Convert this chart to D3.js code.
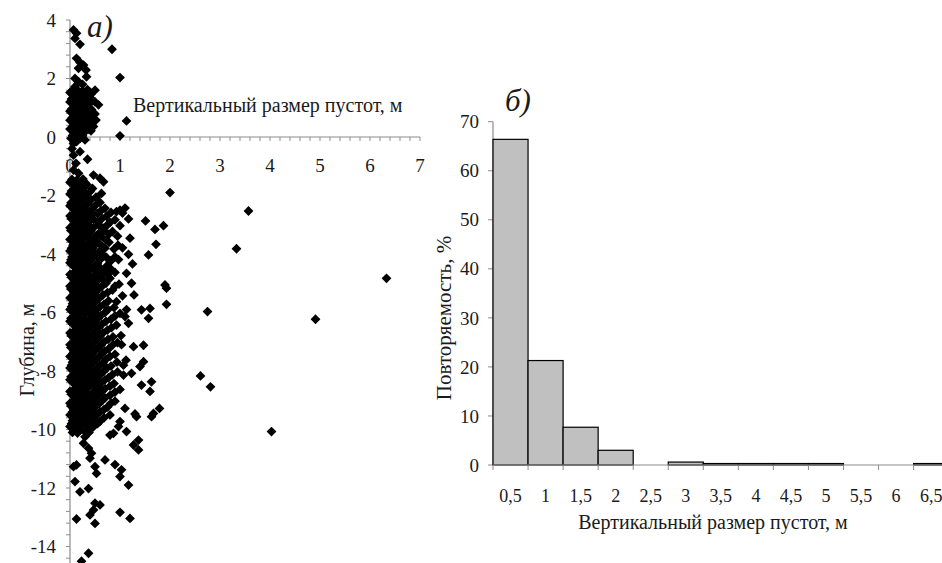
<!DOCTYPE html>
<html>
<head>
<meta charset="utf-8">
<script src="https://d3js.org/d3.v7.min.js"></script>
<style>
  body { margin: 0; background: #fff; }
  svg { display: block; }
</style>
</head>
<body>
<svg id="chart"></svg>
<script>
// panel a: vertical void size (m) vs depth (m)
const voidPoints = [
  [0.07,3.66],[0.13,3.55],[0.1,3.37],[0.2,3.17],[0.84,3.0],
  [0.13,2.69],[0.2,2.55],[0.27,2.46],[0.17,2.35],[0.32,2.29],[0.33,2.06],[0.1,2.0],[1.0,2.03],
  [0.17,1.89],[0.25,1.8],[0.1,1.72],
  [0.05,1.6],[0.15,1.6],[0.25,1.58],[0.35,1.62],[0.5,1.6],[0.0,1.52],[0.28,1.52],[0.4,1.52],
  [0.1,1.45],[0.2,1.47],[0.3,1.44],[0.42,1.46],
  [0.03,1.3],[0.13,1.28],[0.22,1.32],[0.33,1.3],[0.45,1.27],[0.0,1.2],[0.26,1.2],[0.5,1.2],
  [0.07,1.12],[0.18,1.14],[0.28,1.1],[0.38,1.13],[0.57,1.1],
  [0.03,0.95],[0.12,0.97],[0.22,0.93],[0.32,0.96],[0.43,0.94],[0.0,0.88],[0.2,0.88],[0.42,0.86],
  [0.08,0.8],[0.17,0.78],[0.27,0.82],[0.37,0.8],[0.5,0.79],
  [0.04,0.65],[0.14,0.66],[0.24,0.63],[0.34,0.67],[0.46,0.64],[0.0,0.57],[0.24,0.57],[0.35,0.56],[0.52,0.58],
  [0.09,0.5],[0.19,0.52],[0.29,0.48],[0.4,0.5],[1.13,0.55],
  [0.05,0.35],[0.15,0.33],[0.25,0.37],[0.35,0.34],[0.47,0.36],[0.0,0.27],[0.12,0.27],[0.38,0.26],
  [0.1,0.2],[0.2,0.22],[0.3,0.18],[0.42,0.21],
  [0.05,0.05],[0.15,0.07],[0.25,0.04],[1.0,0.04],[0.02,-0.05],[0.2,-0.05],
  [0.07,-0.22],[0.13,-0.16],[0.3,-0.1],[0.04,-0.4],[0.2,-0.5],[0.07,-0.62],[0.35,-0.76],
  [0.12,-0.9],[0.07,-1.13],[0.17,-1.24],[0.47,-1.3],[0.6,-1.41],
  [0.04,-1.45],[0.14,-1.47],[0.26,-1.44],[0.67,-1.53],[0.0,-1.55],[0.19,-1.55],[0.3,-1.56],
  [0.08,-1.65],[0.2,-1.66],[0.34,-1.63],[0.13,-1.75],[0.26,-1.74],[0.45,-1.76],
  [0.03,-1.85],[0.12,-1.86],[0.24,-1.83],[0.4,-1.87],[0.63,-1.93],[2.0,-1.9],[0.0,-1.95],[0.2,-1.96],[0.33,-1.94],
  [0.07,-2.05],[0.17,-2.07],[0.3,-2.04],[0.52,-2.06],[0.11,-2.15],[0.24,-2.16],[0.42,-2.14],
  [0.02,-2.25],[0.13,-2.26],[0.22,-2.23],[0.36,-2.27],[0.6,-2.24],[0.0,-2.35],[0.08,-2.36],[0.3,-2.34],[0.5,-2.35],
  [0.06,-2.45],[0.18,-2.46],[0.28,-2.43],[0.44,-2.47],[0.7,-2.44],[1.0,-2.5],[1.1,-2.43],[0.12,-2.52],[0.34,-2.53],[0.62,-2.52],
  [0.1,-2.6],[0.23,-2.62],[0.38,-2.59],[0.55,-2.61],[0.82,-2.58],[0.93,-2.55],[1.05,-2.6],
  [0.0,-2.7],[0.07,-2.71],[0.2,-2.69],[0.42,-2.7],[0.73,-2.71],
  [0.03,-2.8],[0.15,-2.82],[0.3,-2.78],[0.47,-2.81],[0.64,-2.79],[0.9,-2.83],[1.17,-2.8],
  [0.1,-2.9],[0.24,-2.91],[0.38,-2.89],[0.55,-2.9],[0.8,-2.92],
  [0.08,-3.0],[0.2,-3.02],[0.36,-2.98],[0.58,-3.01],[0.75,-3.0],[1.0,-3.03],
  [0.0,-3.1],[0.13,-3.11],[0.3,-3.09],[0.47,-3.1],[0.66,-3.12],
  [0.02,-3.2],[0.14,-3.22],[0.27,-3.18],[0.42,-3.21],[0.68,-3.2],[0.85,-3.23],
  [0.09,-3.3],[0.22,-3.31],[0.38,-3.29],[0.57,-3.3],[0.78,-3.32],
  [0.06,-3.4],[0.19,-3.42],[0.33,-3.38],[0.5,-3.41],[0.62,-3.4],[0.95,-3.39],[1.2,-3.46],
  [0.0,-3.5],[0.13,-3.51],[0.26,-3.49],[0.44,-3.5],[0.72,-3.52],
  [0.11,-3.6],[0.24,-3.62],[0.4,-3.58],[0.56,-3.61],[0.78,-3.6],
  [0.06,-3.7],[0.19,-3.71],[0.34,-3.69],[0.5,-3.7],[0.64,-3.72],[0.96,-3.7],
  [0.03,-3.8],[0.16,-3.82],[0.3,-3.78],[0.45,-3.81],[0.7,-3.8],[0.88,-3.83],[1.05,-3.79],
  [0.0,-3.9],[0.11,-3.91],[0.24,-3.89],[0.4,-3.9],[0.58,-3.92],
  [0.08,-4.0],[0.21,-4.02],[0.36,-3.98],[0.52,-4.01],[0.64,-4.0],[1.17,-4.01],
  [0.04,-4.1],[0.16,-4.11],[0.3,-4.09],[0.47,-4.1],[0.73,-4.12],[0.9,-4.1],
  [0.02,-4.2],[0.13,-4.22],[0.27,-4.18],[0.42,-4.21],[0.6,-4.2],[0.82,-4.23],[0.97,-4.19],
  [0.0,-4.3],[0.09,-4.31],[0.22,-4.29],[0.37,-4.3],[0.55,-4.32],
  [0.06,-4.4],[0.18,-4.42],[0.32,-4.38],[0.5,-4.41],[0.74,-4.4],[1.25,-4.34],
  [0.13,-4.5],[0.27,-4.51],[0.44,-4.49],[0.62,-4.5],[0.82,-4.52],
  [0.1,-4.6],[0.23,-4.62],[0.38,-4.58],[0.55,-4.61],[0.68,-4.6],[0.9,-4.63],[1.13,-4.66],
  [0.0,-4.7],[0.06,-4.71],[0.18,-4.69],[0.33,-4.7],[0.5,-4.72],[0.75,-4.7],
  [0.03,-4.8],[0.15,-4.82],[0.28,-4.78],[0.44,-4.81],[0.62,-4.8],[0.8,-4.83],
  [0.1,-4.9],[0.23,-4.91],[0.38,-4.89],[0.55,-4.9],[0.68,-4.92],
  [0.07,-5.0],[0.2,-5.02],[0.34,-4.98],[0.5,-5.01],[0.72,-5.0],[0.98,-5.03],[1.23,-5.0],
  [0.0,-5.1],[0.14,-5.11],[0.28,-5.09],[0.44,-5.1],[0.63,-5.12],[0.9,-5.1],
  [0.02,-5.2],[0.12,-5.22],[0.25,-5.18],[0.4,-5.21],[0.57,-5.2],[0.85,-5.23],
  [0.08,-5.3],[0.2,-5.31],[0.35,-5.29],[0.52,-5.3],[0.75,-5.32],
  [0.06,-5.4],[0.17,-5.42],[0.3,-5.38],[0.46,-5.41],[0.66,-5.4],[1.05,-5.43],[1.28,-5.4],
  [0.0,-5.5],[0.12,-5.51],[0.24,-5.49],[0.4,-5.5],[0.58,-5.52],
  [0.1,-5.6],[0.22,-5.62],[0.36,-5.58],[0.52,-5.61],[0.77,-5.6],[0.93,-5.63],
  [0.05,-5.7],[0.17,-5.71],[0.31,-5.69],[0.46,-5.7],[0.68,-5.72],
  [0.03,-5.8],[0.14,-5.82],[0.27,-5.78],[0.42,-5.81],[0.6,-5.8],[0.88,-5.83],[1.13,-5.9],
  [0.0,-5.9],[0.1,-5.91],[0.22,-5.89],[0.36,-5.9],[0.52,-5.92],[0.76,-5.9],
  [0.08,-6.0],[0.19,-6.02],[0.33,-5.98],[0.5,-6.01],[0.7,-6.0],[1.0,-6.03],
  [0.14,-6.1],[0.27,-6.11],[0.44,-6.09],[0.62,-6.1],[0.9,-6.12],
  [0.02,-6.2],[0.12,-6.22],[0.24,-6.18],[0.4,-6.21],[0.56,-6.2],[0.82,-6.23],[1.1,-6.14],
  [0.0,-6.3],[0.08,-6.31],[0.2,-6.29],[0.34,-6.3],[0.5,-6.32],[0.72,-6.3],
  [0.06,-6.4],[0.17,-6.42],[0.3,-6.38],[0.46,-6.41],[0.64,-6.4],[0.93,-6.43],[1.17,-6.37],
  [0.12,-6.5],[0.25,-6.51],[0.41,-6.49],[0.58,-6.5],[0.83,-6.52],
  [0.1,-6.6],[0.22,-6.62],[0.36,-6.58],[0.53,-6.61],[0.75,-6.6],
  [0.0,-6.7],[0.06,-6.71],[0.17,-6.69],[0.31,-6.7],[0.47,-6.72],[0.66,-6.7],
  [0.03,-6.8],[0.14,-6.82],[0.27,-6.78],[0.42,-6.81],[0.6,-6.8],[0.86,-6.83],[1.02,-6.79],
  [0.1,-6.9],[0.22,-6.91],[0.37,-6.89],[0.55,-6.9],[0.76,-6.92],
  [0.08,-7.0],[0.19,-7.02],[0.33,-6.98],[0.49,-7.01],[0.68,-7.0],[0.95,-7.03],
  [0.0,-7.1],[0.14,-7.11],[0.28,-7.09],[0.43,-7.1],[0.62,-7.12],[0.86,-7.1],
  [0.02,-7.2],[0.12,-7.22],[0.24,-7.18],[0.38,-7.21],[0.57,-7.2],[0.78,-7.23],[1.03,-7.1],[1.27,-7.17],[1.47,-7.12],
  [0.07,-7.3],[0.2,-7.31],[0.34,-7.29],[0.5,-7.3],[0.7,-7.32],
  [0.06,-7.4],[0.17,-7.42],[0.3,-7.38],[0.45,-7.41],[0.64,-7.4],[0.9,-7.43],
  [0.0,-7.5],[0.12,-7.51],[0.25,-7.49],[0.4,-7.5],[0.58,-7.52],[0.8,-7.5],
  [0.1,-7.6],[0.22,-7.62],[0.36,-7.58],[0.52,-7.61],[0.72,-7.6],[1.12,-7.63],[1.47,-7.68],
  [0.05,-7.7],[0.17,-7.71],[0.31,-7.69],[0.47,-7.7],[0.66,-7.72],[0.94,-7.7],
  [0.03,-7.8],[0.14,-7.82],[0.27,-7.78],[0.42,-7.81],[0.6,-7.8],[0.82,-7.83],[1.07,-7.8],[1.4,-7.85],
  [0.0,-7.9],[0.1,-7.91],[0.22,-7.89],[0.37,-7.9],[0.54,-7.92],[0.74,-7.9],
  [0.08,-8.0],[0.19,-8.02],[0.33,-7.98],[0.5,-8.01],[0.68,-8.0],[0.95,-8.03],
  [0.14,-8.1],[0.28,-8.11],[0.44,-8.09],[0.62,-8.1],[0.85,-8.12],
  [0.02,-8.2],[0.12,-8.22],[0.25,-8.18],[0.4,-8.21],[0.56,-8.2],[0.77,-8.23],[1.07,-8.14],[1.23,-8.08],
  [0.0,-8.3],[0.08,-8.31],[0.2,-8.29],[0.35,-8.3],[0.52,-8.32],[0.7,-8.3],
  [0.06,-8.4],[0.17,-8.42],[0.3,-8.38],[0.46,-8.41],[0.62,-8.4],[0.88,-8.43],[1.43,-8.48],[1.63,-8.37],
  [0.12,-8.5],[0.25,-8.51],[0.4,-8.49],[0.57,-8.5],[0.8,-8.52],
  [0.1,-8.6],[0.22,-8.62],[0.35,-8.58],[0.52,-8.61],[0.7,-8.6],[1.0,-8.63],[1.6,-8.7],
  [0.0,-8.7],[0.06,-8.71],[0.17,-8.69],[0.3,-8.7],[0.47,-8.72],[0.64,-8.7],[0.9,-8.72],
  [0.03,-8.8],[0.14,-8.82],[0.27,-8.78],[0.42,-8.81],[0.58,-8.8],[0.8,-8.83],
  [0.1,-8.9],[0.22,-8.91],[0.36,-8.89],[0.52,-8.9],[0.7,-8.92],
  [0.08,-9.0],[0.18,-9.02],[0.3,-8.98],[0.45,-9.01],[0.65,-9.0],[0.9,-9.03],
  [0.0,-9.1],[0.14,-9.11],[0.27,-9.09],[0.4,-9.1],[0.58,-9.12],[0.82,-9.1],
  [0.02,-9.2],[0.12,-9.22],[0.23,-9.18],[0.36,-9.21],[0.52,-9.2],[0.75,-9.23],[1.1,-9.28],[1.79,-9.28],
  [0.07,-9.3],[0.19,-9.31],[0.32,-9.29],[0.47,-9.3],[0.68,-9.32],
  [0.05,-9.4],[0.16,-9.42],[0.28,-9.38],[0.42,-9.41],[0.6,-9.4],[1.3,-9.47],[1.67,-9.45],
  [0.0,-9.5],[0.11,-9.51],[0.24,-9.49],[0.37,-9.5],[0.52,-9.52],[0.8,-9.5],
  [0.09,-9.6],[0.2,-9.62],[0.33,-9.58],[0.48,-9.61],[0.68,-9.6],[1.0,-9.73],[1.33,-9.56],[1.63,-9.56],
  [0.05,-9.7],[0.16,-9.71],[0.28,-9.69],[0.42,-9.7],[0.6,-9.72],
  [0.03,-9.8],[0.13,-9.82],[0.25,-9.78],[0.38,-9.81],[0.55,-9.8],[0.97,-9.9],
  [0.0,-9.9],[0.1,-9.91],[0.2,-9.89],[0.33,-9.9],[0.46,-9.92],
  [0.08,-10.0],[0.2,-10.02],[0.3,-10.07],[1.13,-10.07],[0.05,-10.1],[0.15,-10.12],[0.38,-10.1],
  [0.3,-10.25],[0.8,-10.19],[0.87,-10.13],[1.37,-10.36],[0.27,-10.47],[1.27,-10.53],
  [0.37,-10.64],[1.37,-10.7],[0.43,-10.81],[0.4,-10.98],[0.7,-11.04],[0.9,-11.2],
  [0.07,-11.27],[0.13,-11.21],[0.5,-11.27],[0.53,-11.5],[1.03,-11.38],[1.0,-11.61],
  [0.1,-11.78],[0.37,-12.02],[0.2,-12.13],[1.17,-11.9],
  [0.5,-12.52],[0.6,-12.58],[0.47,-12.75],[0.4,-12.92],[0.5,-13.21],[0.13,-13.06],
  [1.0,-12.83],[1.2,-13.04],[0.37,-14.23],[0.23,-14.5],
  [3.57,-2.53],[3.33,-3.82],[6.33,-4.83],[2.75,-5.97],[4.91,-6.23],
  [1.51,-2.87],[1.7,-3.16],[1.87,-3.03],[1.72,-3.67],[1.57,-4.03],
  [1.9,-5.06],[1.93,-5.17],[1.93,-5.72],[1.43,-5.91],[1.6,-5.86],[1.57,-6.2],
  [2.61,-8.17],[2.81,-8.54],[4.03,-10.07]
];
const sizeTicks = [0, 1, 2, 3, 4, 5, 6, 7];
const depthTicks = [4, 2, 0, -2, -4, -6, -8, -10, -12, -14];

// panel b: frequency histogram
const binLabels = ["0,5", "1", "1,5", "2", "2,5", "3", "3,5", "4", "4,5", "5", "5,5", "6", "6,5"];
const binPercents = [66.4, 21.3, 7.7, 3.0, 0, 0.6, 0.3, 0.3, 0.3, 0.3, 0, 0, 0.3];
const percentTicks = [0, 10, 20, 30, 40, 50, 60, 70];

const W = 942, H = 563;
const axisColor = "#8c8c8c", textColor = "#1a1a1a";
const serif = "'Liberation Serif', 'Times New Roman', 'DejaVu Serif', serif";

const svg = d3.select("#chart")
  .attr("width", W).attr("height", H)
  .attr("font-family", serif);

// ---- panel a ----
const xA = d3.scaleLinear().domain([0, 7]).range([70, 420]);
const yA = d3.scaleLinear().domain([-15, 4]).range([137 + 15 * 29.25, 20]);

const gA = svg.append("g");

// y axis with minor ticks every 0.4
gA.append("line")
  .attr("x1", xA(0)).attr("x2", xA(0))
  .attr("y1", yA(4)).attr("y2", H)
  .attr("stroke", axisColor).attr("stroke-width", 1.2);
gA.selectAll(".ytickA")
  .data(d3.range(0, 48).map(i => 4 - i * 0.4))
  .join("line")
  .attr("x1", xA(0) - 4).attr("x2", xA(0))
  .attr("y1", d => yA(d)).attr("y2", d => yA(d))
  .attr("stroke", axisColor);
gA.selectAll(".ylabA")
  .data(depthTicks)
  .join("text")
  .attr("x", 56).attr("y", d => yA(d))
  .attr("dy", "0.35em")
  .attr("text-anchor", "end")
  .attr("font-size", 19).attr("fill", textColor)
  .text(d => d);

// x axis at depth 0, minor ticks every 0.2
gA.append("line")
  .attr("x1", xA(0)).attr("x2", xA(7))
  .attr("y1", yA(0)).attr("y2", yA(0))
  .attr("stroke", axisColor).attr("stroke-width", 1.2);
gA.selectAll(".xtickA")
  .data(d3.range(0, 36).map(i => i * 0.2))
  .join("line")
  .attr("x1", d => xA(d)).attr("x2", d => xA(d))
  .attr("y1", yA(0)).attr("y2", yA(0) + 4)
  .attr("stroke", axisColor);
gA.selectAll(".xlabA")
  .data(sizeTicks)
  .join("text")
  .attr("x", d => xA(d)).attr("y", yA(0) + 28)
  .attr("dy", "0.35em")
  .attr("text-anchor", "middle")
  .attr("font-size", 19).attr("fill", textColor)
  .text(d => d);

// markers
const diamond = d3.symbol(d3.symbolSquare, 48);
gA.selectAll(".pt")
  .data(voidPoints)
  .join("path")
  .attr("d", diamond)
  .attr("transform", d => `translate(${xA(d[0])},${yA(d[1])}) rotate(45)`)
  .attr("fill", "#000");

gA.append("text")
  .attr("x", 133).attr("y", 112)
  .attr("font-size", 20).attr("fill", textColor)
  .text("Вертикальный размер пустот, м");
gA.append("text")
  .attr("transform", "translate(34,350) rotate(-90)")
  .attr("text-anchor", "middle")
  .attr("font-size", 20).attr("fill", textColor)
  .text("Глубина, м");
gA.append("text")
  .attr("x", 87).attr("y", 37)
  .attr("font-size", 31).attr("font-style", "italic").attr("fill", textColor)
  .text("а)");

// ---- panel b ----
const xB = d3.scaleBand().domain(binLabels).range([493, 493 + 13 * 35.05]).padding(0);
const yB = d3.scaleLinear().domain([0, 70]).range([465, 121.7]);

const gB = svg.append("g");

gB.append("line")
  .attr("x1", 493).attr("x2", 493)
  .attr("y1", yB(70)).attr("y2", yB(0))
  .attr("stroke", axisColor).attr("stroke-width", 1.2);
gB.selectAll(".ytickB")
  .data(percentTicks)
  .join("line")
  .attr("x1", 488).attr("x2", 493)
  .attr("y1", d => yB(d)).attr("y2", d => yB(d))
  .attr("stroke", axisColor);
gB.selectAll(".ylabB")
  .data(percentTicks)
  .join("text")
  .attr("x", 479).attr("y", d => yB(d))
  .attr("dy", "0.35em")
  .attr("text-anchor", "end")
  .attr("font-size", 19).attr("fill", textColor)
  .text(d => d);

gB.selectAll(".bar")
  .data(binLabels.map((b, i) => ({ bin: b, v: binPercents[i] })).filter(d => d.v > 0))
  .join("rect")
  .attr("x", d => xB(d.bin)).attr("width", xB.bandwidth())
  .attr("y", d => yB(d.v)).attr("height", d => yB(0) - yB(d.v))
  .attr("fill", "#c0c0c0").attr("stroke", "#000").attr("stroke-width", 1.2);

gB.append("line")
  .attr("x1", 493).attr("x2", W)
  .attr("y1", yB(0)).attr("y2", yB(0))
  .attr("stroke", axisColor).attr("stroke-width", 1.2);
gB.selectAll(".xtickB")
  .data(binLabels)
  .join("line")
  .attr("x1", d => xB(d)).attr("x2", d => xB(d))
  .attr("y1", yB(0)).attr("y2", yB(0) + 5)
  .attr("stroke", axisColor);
gB.selectAll(".xlabB")
  .data(binLabels)
  .join("text")
  .attr("x", d => xB(d) + xB.bandwidth() / 2).attr("y", 496)
  .attr("dy", "0.35em")
  .attr("text-anchor", "middle")
  .attr("font-size", 18).attr("fill", textColor)
  .text(d => d);

gB.append("text")
  .attr("x", 713).attr("y", 529)
  .attr("text-anchor", "middle")
  .attr("font-size", 20).attr("fill", textColor)
  .text("Вертикальный размер пустот, м");
gB.append("text")
  .attr("transform", "translate(451,318) rotate(-90)")
  .attr("text-anchor", "middle")
  .attr("font-size", 21).attr("fill", textColor)
  .text("Повторяемость, %");
gB.append("text")
  .attr("x", 505).attr("y", 111)
  .attr("font-size", 31).attr("font-style", "italic").attr("fill", textColor)
  .text("б)");
</script>
</body>
</html>
